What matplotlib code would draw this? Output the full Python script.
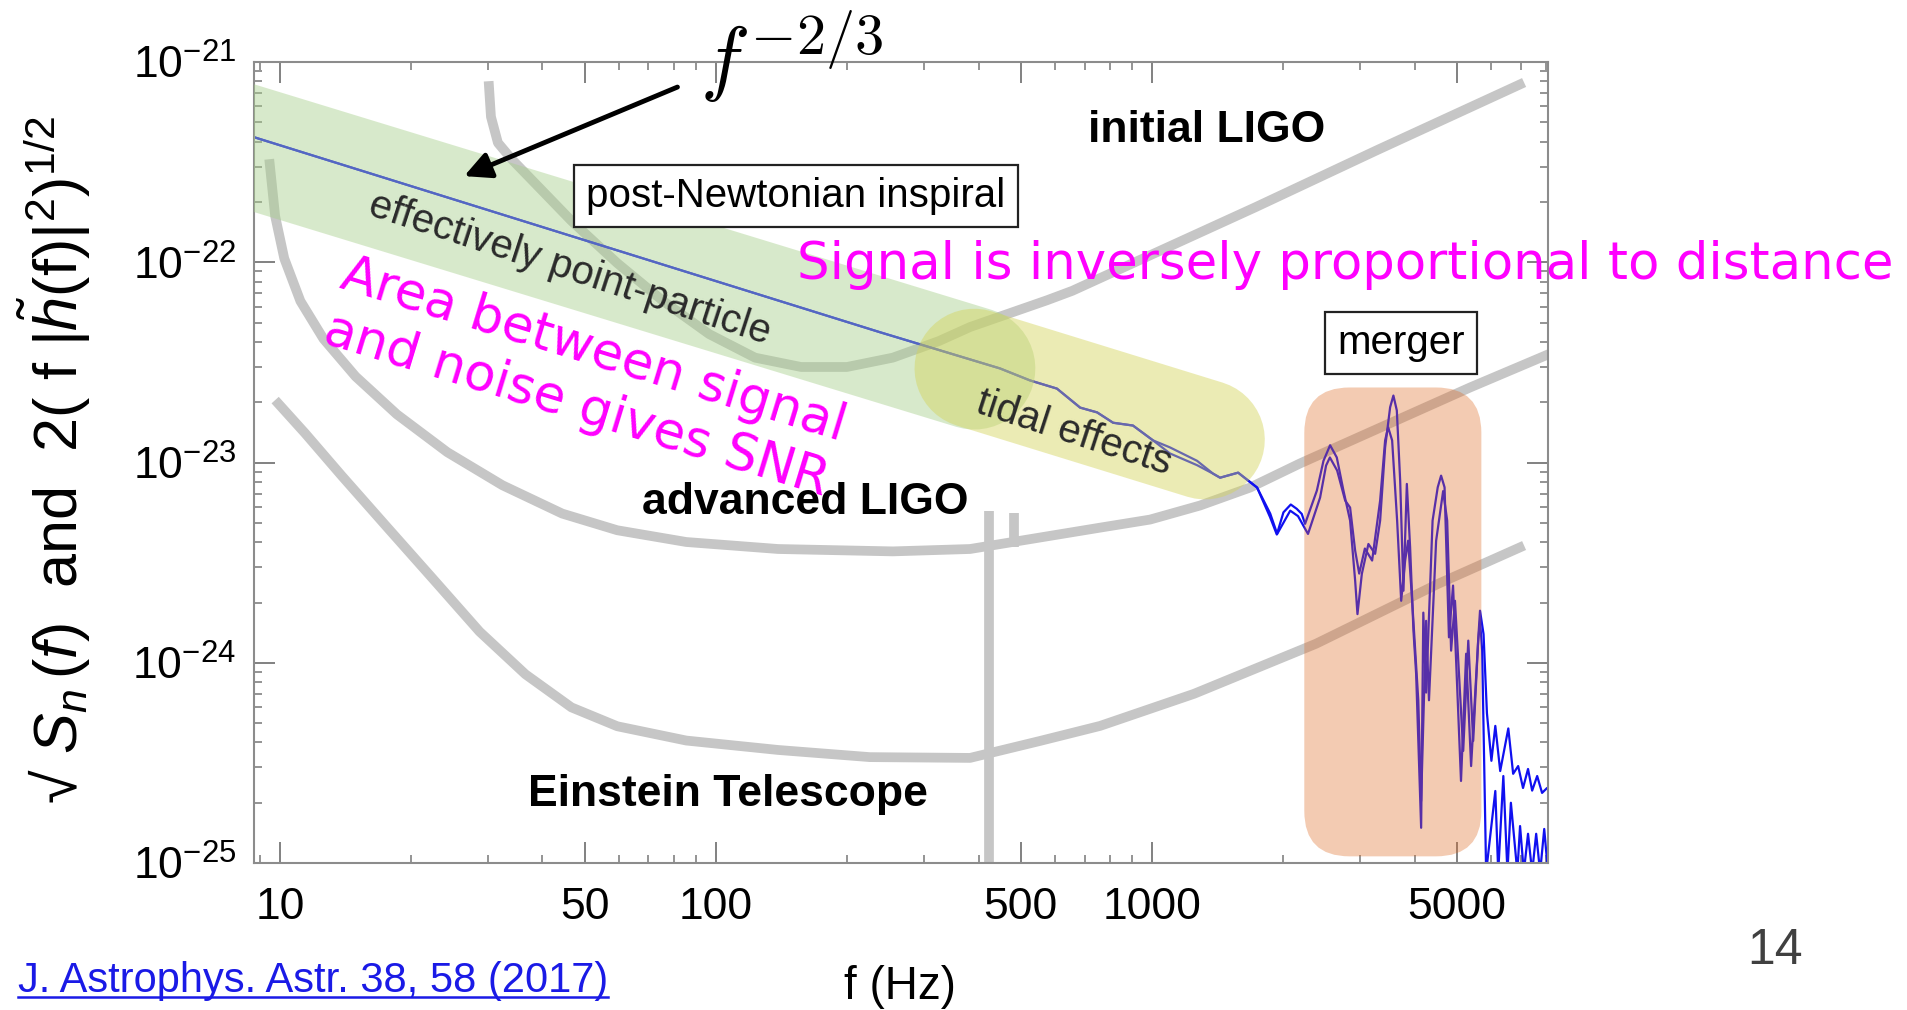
import matplotlib
matplotlib.use("Agg")
import matplotlib.pyplot as plt
import numpy as np
from matplotlib.patches import FancyBboxPatch
from matplotlib.lines import Line2D
from matplotlib.ticker import FixedLocator, FixedFormatter, LogLocator, NullFormatter

plt.rcParams["font.family"] = ["Liberation Sans", "DejaVu Sans"]
plt.rcParams["mathtext.fontset"] = "custom"
plt.rcParams["mathtext.rm"] = "Liberation Sans"
plt.rcParams["mathtext.it"] = "Liberation Sans:italic"
plt.rcParams["mathtext.bf"] = "Liberation Sans:bold"

# detector noise curves (Hz, strain)
init_ligo_f = [30.1, 30.47, 31.61, 34.0, 38.39, 46.6, 59.37, 75.66, 96.43, 122.9, 156.7, 199.6,
               254.4, 324.3, 382.5, 574, 656, 1723, 3280, 7130]
init_ligo_h = [8.02e-22, 5.33e-22, 3.95e-22, 3.27e-22, 2.49e-22, 1.61e-22, 9.9e-23, 6.4e-23,
               4.38e-23, 3.34e-23, 3.0e-23, 3.0e-23, 3.34e-23, 4.04e-23, 4.75e-23, 6.46e-23,
               7.2e-23, 1.88e-22, 3.63e-22, 7.9e-22]

adv_ligo_f = [9.45, 9.75, 10.23, 11.14, 12.58, 14.91, 18.54, 24.2, 32.38, 44.39, 59.37, 85.45,
              138.8, 254.4, 382.5, 760, 989.5, 1288, 1678, 2185, 5360, 8180]
adv_ligo_h = [3.27e-22, 1.70e-22, 1.045e-22, 6.4e-23, 4.15e-23, 2.69e-23, 1.74e-23, 1.126e-23,
              7.7e-24, 5.56e-24, 4.59e-24, 4.01e-24, 3.7e-24, 3.6e-24, 3.7e-24, 4.73e-24, 5.19e-24,
              6.1e-24, 7.5e-24, 9.9e-24, 2.37e-23, 3.5e-23]

et_f = [9.75, 11.42, 13.86, 17.66, 22.52, 28.7, 36.56, 46.6, 59.37, 85.45, 138.8, 225.3, 382.5,
        553, 760, 1248, 2377, 4530, 7130]
et_h = [2.05e-23, 1.40e-23, 8.58e-24, 4.72e-24, 2.6e-24, 1.43e-24, 8.76e-25, 5.99e-25, 4.82e-25,
        4.09e-25, 3.67e-25, 3.38e-25, 3.35e-25, 4.07e-25, 4.84e-25, 7.0e-25, 1.245e-24, 2.48e-24,
        3.85e-24]

spike_f = [423, 482]
spike_top = [5.75e-24, 5.6e-24]
spike_bottom = [8e-26, 3.8e-24]

# signal: common inspiral part, then two waveforms
insp_f = [8.7, 238, 448, 525, 605, 684, 748, 814, 904, 1005]
insp_h = [4.22e-22, 4.47e-23, 2.95e-23, 2.57e-23, 2.34e-23, 1.88e-23, 1.78e-23, 1.58e-23, 1.53e-23, 1.29e-23]

wave_a_f = [1099, 1268, 1380, 1432, 1575, 1741, 1865, 1932, 2001, 2080, 2147, 2204, 2243, 2387, 2472,
            2560, 2652, 2747, 2845, 2922, 2958, 3027, 3134, 3247, 3334, 3423, 3515, 3576, 3641, 3706,
            3771, 3839, 3906, 3975, 4032, 4140, 4188, 4250, 4398, 4519, 4600, 4685, 4795, 4900, 5110,
            5250, 5390, 5612, 5650, 5756, 5860, 6000, 6125, 6285, 6560, 6730, 6910, 7090, 7280, 7440,
            7640, 7840, 8050, 8270]
wave_a_h = [1.19e-23, 1.02e-23, 8.8e-24, 8.4e-24, 8.9e-24, 7.5e-24, 5.33e-24, 4.37e-24, 5.64e-24, 6.17e-24,
            5.87e-24, 5.54e-24, 4.94e-24, 7.24e-24, 1.02e-23, 1.22e-23, 1.06e-23, 7.24e-24, 5.13e-24, 2.57e-24,
            1.75e-24, 2.78e-24, 3.92e-24, 3.5e-24, 5.13e-24, 1.19e-23, 1.89e-23, 2.16e-23, 1.82e-23, 8.13e-24,
            2.29e-24, 7.82e-24, 3.77e-24, 1.45e-24, 8.8e-25, 1.5e-25, 1.78e-24, 7.1e-25, 5.13e-24, 7.52e-24,
            8.6e-24, 7.52e-24, 1.34e-24, 2.43e-24, 2.57e-25, 1.11e-24, 3.05e-25, 1.45e-24, 1.82e-24, 1.39e-24,
            5.6e-25, 3.24e-25, 4.84e-25, 2.88e-25, 4.7e-25, 2.79e-25, 3.05e-25, 2.37e-25, 2.95e-25, 2.3e-25,
            2.72e-25, 2.24e-25, 2.37e-25, 2.24e-25]

wave_b_f = [1099, 1268, 1380, 1432, 1575, 1741, 1866, 1936, 2074, 2161, 2278, 2428, 2506, 2557, 2657,
            2772, 2845, 2922, 2985, 3076, 3196, 3334, 3423, 3478, 3552, 3647, 3726, 3805, 3865, 3948,
            4078, 4140, 4250, 4315, 4481, 4650, 4750, 4850, 4950, 5170, 5310, 5450, 5595, 5650, 5714,
            5835, 6125, 6220, 6390, 6530, 6650, 6880, 6980, 7120, 7280, 7440, 7600, 7760, 7930, 8090, 8270]
wave_b_h = [1.11e-23, 9.7e-24, 8.8e-24, 8.4e-24, 8.9e-24, 7.5e-24, 5.56e-24, 4.4e-24, 5.75e-24, 5.4e-24,
            4.4e-24, 6.68e-24, 9.66e-24, 1.06e-23, 9.12e-24, 6.46e-24, 5.96e-24, 3.63e-24, 2.79e-24, 3.72e-24,
            3.24e-24, 6.46e-24, 1.29e-23, 1.5e-23, 1.29e-23, 5.13e-24, 2.04e-24, 3.24e-24, 4.07e-24, 2.04e-24,
            6.5e-25, 2.04e-25, 1.62e-24, 6.5e-25, 4.07e-24, 7.2e-24, 5.13e-24, 1.15e-24, 2.04e-24, 3.63e-25,
            1.29e-24, 4.07e-25, 1.29e-24, 1.62e-24, 1.15e-24, 9e-26, 2.29e-25, 9e-26, 2.72e-25, 9e-26,
            2.0e-25, 9e-26, 1.53e-25, 9e-26, 1.4e-25, 9e-26, 1.4e-25, 9e-26, 1.48e-25, 9e-26, 1.4e-25]

# highlighted regions
pn_band_f = [5, 391]
pn_band_h = [5.38e-22, 2.95e-23]
tidal_band_f = [391, 1323]
tidal_band_h = [2.95e-23, 1.30e-23]
merger_f = [2234, 5690]
merger_h = [1.08e-25, 2.37e-23]

xtick_vals = [10, 50, 100, 500, 1000, 5000]
xtick_labels = ["10", "50", "100", "500", "1000", "5000"]
ytick_vals = [1e-25, 1e-24, 1e-23, 1e-22, 1e-21]

fig = plt.figure(figsize=(19.07, 10.10), dpi=100)
ax = fig.add_axes([0.1332, 0.1455, 0.6786, 0.7931])
ax.set_xscale("log")
ax.set_yscale("log")
ax.set_xlim(8.72, 8094)
ax.set_ylim(1e-25, 1e-21)

gray = "#c6c6c6"
for f, h in [(init_ligo_f, init_ligo_h), (adv_ligo_f, adv_ligo_h), (et_f, et_h)]:
    ax.plot(f, h, color=gray, lw=7, solid_capstyle="butt", solid_joinstyle="round", zorder=1)
ax.vlines(spike_f, spike_bottom, spike_top, color=gray, lw=7, zorder=1)

blue = "#1010f0"
ax.plot(insp_f + wave_a_f, insp_h + wave_a_h, color=blue, lw=1.6, zorder=2)
ax.plot(insp_f + wave_b_f, insp_h + wave_b_h, color=blue, lw=1.6, zorder=2)

ax.plot(pn_band_f, pn_band_h, color="#a8d08d", alpha=0.45, lw=88,
        solid_capstyle="round", zorder=3)
ax.plot(tidal_band_f, tidal_band_h, color="#d4d45a", alpha=0.45, lw=86,
        solid_capstyle="round", zorder=3)

to_axes = ax.transData + ax.transAxes.inverted()
(mx0, my0) = to_axes.transform((merger_f[0], merger_h[0]))
(mx1, my1) = to_axes.transform((merger_f[1], merger_h[1]))
ax_w = 0.6786 * 1907
ax_h = 0.7931 * 1010
ax.add_patch(FancyBboxPatch((mx0, my0), mx1 - mx0, my1 - my0,
                            boxstyle="round,pad=0,rounding_size=0.035",
                            mutation_aspect=ax_w / ax_h, transform=ax.transAxes,
                            fc="#dd6a23", ec="none", alpha=0.35, zorder=3))

# axes styling
for sp in ax.spines.values():
    sp.set_color("#8c8c8c")
    sp.set_linewidth(1.5)
ax.xaxis.set_major_locator(FixedLocator(xtick_vals))
ax.xaxis.set_major_formatter(FixedFormatter(xtick_labels))
ax.xaxis.set_minor_locator(LogLocator(base=10, subs=np.arange(1, 10), numticks=30))
ax.xaxis.set_minor_formatter(NullFormatter())
ax.yaxis.set_major_locator(FixedLocator(ytick_vals))
ax.yaxis.set_minor_locator(LogLocator(base=10, subs=np.arange(2, 10), numticks=30))
ax.yaxis.set_minor_formatter(NullFormatter())
ax.tick_params(which="both", direction="in", top=True, right=True, color="#777777")
ax.tick_params(which="major", length=15, width=1.3, labelsize=32)
ax.tick_params(which="minor", length=6, width=1.1)
ax.tick_params(axis="x", which="major", pad=17)
ax.tick_params(axis="y", which="major", pad=13)

ax.set_xlabel("f (Hz)", fontsize=33)
ax.xaxis.set_label_coords(0.499, -0.155)
ax.xaxis.label.set_va("center")
ax.set_ylabel("√ $S_n\\,(f)$  and  2( f $|\\tilde{h}(\\mathrm{f})|^2)^{1/2}$", fontsize=44)
ax.yaxis.set_label_coords(-0.154, 0.503)
ax.yaxis.label.set_va("center")

# annotations inside the plot
box = dict(boxstyle="square,pad=0.3", fc="white", ec="#222222", lw=1.6)
ax.text(152.6, 2.14e-22, "post-Newtonian inspiral", fontsize=29, ha="center", va="center",
        bbox=box, zorder=6)
ax.text(3724, 3.94e-23, "merger", fontsize=29, ha="center", va="center", bbox=box, zorder=6)
ax.text(1337, 4.57e-22, "initial LIGO", fontsize=32, fontweight="bold", ha="center", va="center", zorder=6)
ax.text(160, 6.3e-24, "advanced LIGO", fontsize=32, fontweight="bold", ha="center", va="center", zorder=6)
ax.text(106.5, 2.21e-25, "Einstein Telescope", fontsize=32, fontweight="bold", ha="center",
        va="center", zorder=6)
ax.text(46.2, 9.3e-23, "effectively point-particle", fontsize=29, color="#2a2a2a", rotation=-18,
        rotation_mode="anchor", ha="center", va="center", zorder=6)
ax.text(662, 1.41e-23, "tidal effects", fontsize=29, color="#2a2a2a", rotation=-18,
        rotation_mode="anchor", ha="center", va="center", zorder=6)

magenta = "#ff00ff"
fig.text(0.418, 0.7376, "Signal is inversely proportional to distance", fontsize=37,
         family="DejaVu Sans", color=magenta, ha="left", va="center", zorder=7)
fig.text(0.3068, 0.6257, "Area between signal\nand noise gives SNR", fontsize=37,
         family="DejaVu Sans", color=magenta, rotation=-17, rotation_mode="anchor",
         ha="center", va="center", multialignment="center", zorder=7)

fig.text(700 / 1907, 1 - 86 / 1010, r"$f^{-2/3}$", fontsize=60, math_fontfamily="cm",
         ha="left", va="baseline")
ax.annotate("", xy=(26.1, 2.66e-22), xycoords="data",
            xytext=(680 / 1907, 1 - 86 / 1010), textcoords="figure fraction",
            arrowprops=dict(arrowstyle="-|>", lw=3.5, color="black", mutation_scale=40),
            annotation_clip=False, zorder=7)

cite = fig.text(18 / 1907, 1 - 992 / 1010, "J. Astrophys. Astr. 38, 58 (2017)", fontsize=30,
                color="#1a1ae6", ha="left", va="baseline")
fig.text(1775 / 1907, 1 - 951 / 1010, "14", fontsize=36, color="#404040", ha="center", va="center")

fig.canvas.draw()
bb = cite.get_window_extent().transformed(fig.transFigure.inverted())
uy = 1 - 997 / 1010
fig.add_artist(Line2D([bb.x0, bb.x1], [uy, uy], transform=fig.transFigure, color="#1a1ae6", lw=1.8))

fig.savefig("out.png", dpi=100)
